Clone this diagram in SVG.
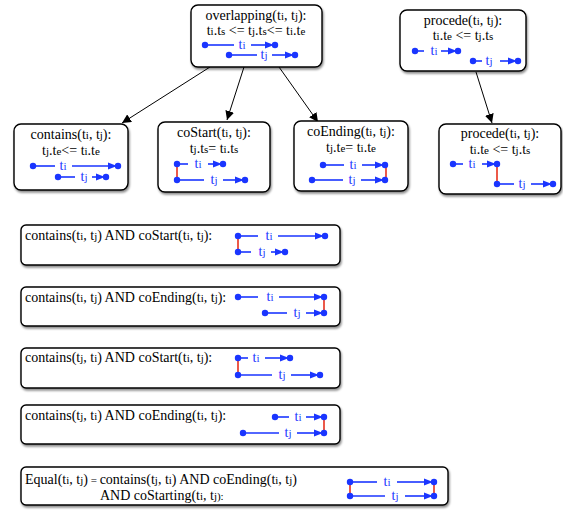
<svg xmlns="http://www.w3.org/2000/svg" xmlns:xlink="http://www.w3.org/1999/xlink" width="563" height="512" viewBox="0 0 563 512">
<defs>
<filter id="sh" x="-10%" y="-10%" width="130%" height="140%"><feDropShadow dx="1" dy="2" stdDeviation="1.2" flood-color="#000" flood-opacity="0.45"/></filter>
<marker id="ah" viewBox="0 0 10 10" refX="10" refY="5" markerWidth="9" markerHeight="9" orient="auto" markerUnits="userSpaceOnUse"><path d="M0,0 L10,5 L0,10 z" fill="#000"/></marker>
<g id="ae"><path d="M-10,-3.5 L-1,0 L-10,3.5 z" fill="#1a35ff"/><circle cx="0" cy="0" r="3.2" fill="#1a35ff"/></g>
<circle id="d" cx="0" cy="0" r="3.2" fill="#1a35ff"/>
</defs>
<style>
.box{fill:#fff;stroke:#000;stroke-width:1.4;filter:url(#sh)}
.t{font-family:"Liberation Serif","Times New Roman",serif;font-size:14px;fill:#000}
.c{text-anchor:middle}
.b{font-family:"Liberation Serif","Times New Roman",serif;font-size:14px;fill:#1a35ff;text-anchor:middle}
.s{font-size:11px}
.ln{stroke:#1a35ff;stroke-width:1.6;fill:none}
.rd{stroke:#e8301c;stroke-width:1.6}
.cn{stroke:#000;stroke-width:1;fill:none;marker-end:url(#ah)}
</style>
<rect width="563" height="512" fill="#fff"/>

<g id="connectors">
<line class="cn" x1="210" y1="67" x2="122" y2="123"/>
<line class="cn" x1="244" y1="67" x2="227" y2="120"/>
<line class="cn" x1="279" y1="67" x2="318" y2="122"/>
<line class="cn" x1="476" y1="72" x2="492" y2="123"/>
</g>

<g id="overlapping">
<rect class="box" x="191" y="5" width="131" height="62" rx="7"/>
<text class="t c" x="256" y="20">overlapping(t<tspan class="s">i</tspan>, t<tspan class="s">j</tspan>):</text>
<text class="t c" x="256" y="35">t<tspan class="s">i</tspan>.t<tspan class="s">s</tspan> &lt;= t<tspan class="s">j</tspan>.t<tspan class="s">s</tspan>&lt;= t<tspan class="s">i</tspan>.t<tspan class="s">e</tspan></text>
<use href="#d" x="205" y="45"/><line class="ln" x1="205" y1="45" x2="234" y2="45"/><text class="b" x="242" y="49">t<tspan class="s">i</tspan></text><line class="ln" x1="251" y1="45" x2="268" y2="45"/><use href="#ae" x="275" y="45"/>
<use href="#d" x="229" y="55"/><line class="ln" x1="229" y1="55" x2="257" y2="55"/><text class="b" x="264" y="59">t<tspan class="s">j</tspan></text><line class="ln" x1="272" y1="55" x2="288" y2="55"/><use href="#ae" x="295" y="55"/>
</g>

<g id="procede-top">
<rect class="box" x="400" y="10" width="126" height="61" rx="7"/>
<text class="t c" x="463" y="25">procede(t<tspan class="s">i</tspan>, t<tspan class="s">j</tspan>):</text>
<text class="t c" x="463" y="40">t<tspan class="s">i</tspan>.t<tspan class="s">e</tspan> &lt;= t<tspan class="s">j</tspan>.t<tspan class="s">s</tspan></text>
<use href="#d" x="415" y="51"/><line class="ln" x1="415" y1="51" x2="424" y2="51"/><text class="b" x="434" y="55">t<tspan class="s">i</tspan></text><line class="ln" x1="441" y1="51" x2="452" y2="51"/><use href="#ae" x="458" y="51"/>
<use href="#d" x="473" y="61"/><line class="ln" x1="473" y1="61" x2="482" y2="61"/><text class="b" x="489" y="65">t<tspan class="s">j</tspan></text><line class="ln" x1="500" y1="61" x2="512" y2="61"/><use href="#ae" x="518" y="61"/>
</g>

<g id="contains">
<rect class="box" x="14" y="124" width="114" height="66" rx="7"/>
<text class="t c" x="71" y="139">contains(t<tspan class="s">i</tspan>, t<tspan class="s">j</tspan>):</text>
<text class="t c" x="71" y="155">t<tspan class="s">j</tspan>.t<tspan class="s">e</tspan>&lt;= t<tspan class="s">i</tspan>.t<tspan class="s">e</tspan></text>
<use href="#d" x="33" y="166"/><line class="ln" x1="33" y1="166" x2="55" y2="166"/><text class="b" x="63" y="170">t<tspan class="s">i</tspan></text><line class="ln" x1="72" y1="166" x2="112" y2="166"/><use href="#ae" x="118" y="166"/>
<use href="#d" x="58" y="177"/><line class="ln" x1="58" y1="177" x2="75" y2="177"/><text class="b" x="84" y="181">t<tspan class="s">j</tspan></text><line class="ln" x1="92" y1="177" x2="100" y2="177"/><use href="#ae" x="106" y="177"/>
</g>

<g id="coStart">
<rect class="box" x="158" y="122" width="112" height="70" rx="7"/>
<text class="t c" x="214" y="137">coStart(t<tspan class="s">i</tspan>, t<tspan class="s">j</tspan>):</text>
<text class="t c" x="214" y="153">t<tspan class="s">j</tspan>.t<tspan class="s">s</tspan>= t<tspan class="s">i</tspan>.t<tspan class="s">s</tspan></text>
<line class="rd" x1="177" y1="164" x2="177" y2="180"/>
<use href="#d" x="177" y="164"/><line class="ln" x1="177" y1="164" x2="188" y2="164"/><text class="b" x="198" y="168">t<tspan class="s">i</tspan></text><line class="ln" x1="208" y1="164" x2="217" y2="164"/><use href="#ae" x="223" y="164"/>
<use href="#d" x="177" y="180"/><line class="ln" x1="177" y1="180" x2="204" y2="180"/><text class="b" x="214" y="184">t<tspan class="s">j</tspan></text><line class="ln" x1="223" y1="180" x2="239" y2="180"/><use href="#ae" x="245" y="180"/>
</g>

<g id="coEnding">
<rect class="box" x="294" y="121" width="114" height="70" rx="7"/>
<text class="t c" x="351" y="136">coEnding(t<tspan class="s">i</tspan>, t<tspan class="s">j</tspan>):</text>
<text class="t c" x="351" y="152">t<tspan class="s">j</tspan>.t<tspan class="s">e</tspan>= t<tspan class="s">i</tspan>.t<tspan class="s">e</tspan></text>
<line class="rd" x1="386" y1="165" x2="386" y2="180"/>
<use href="#d" x="323" y="165"/><line class="ln" x1="323" y1="165" x2="344" y2="165"/><text class="b" x="353" y="169">t<tspan class="s">i</tspan></text><line class="ln" x1="362" y1="165" x2="379" y2="165"/><use href="#ae" x="385" y="165"/>
<use href="#d" x="312" y="180"/><line class="ln" x1="312" y1="180" x2="343" y2="180"/><text class="b" x="352" y="184">t<tspan class="s">j</tspan></text><line class="ln" x1="361" y1="180" x2="379" y2="180"/><use href="#ae" x="385" y="180"/>
</g>

<g id="procede-bottom">
<rect class="box" x="439" y="124" width="122" height="70" rx="7"/>
<text class="t c" x="500" y="138">procede(t<tspan class="s">i</tspan>, t<tspan class="s">j</tspan>):</text>
<text class="t c" x="500" y="154">t<tspan class="s">i</tspan>.t<tspan class="s">e</tspan> &lt;= t<tspan class="s">j</tspan>.t<tspan class="s">s</tspan></text>
<line class="rd" x1="497" y1="164" x2="497" y2="184"/>
<use href="#d" x="453" y="164"/><line class="ln" x1="453" y1="164" x2="463" y2="164"/><text class="b" x="472" y="168">t<tspan class="s">i</tspan></text><line class="ln" x1="482" y1="164" x2="491" y2="164"/><use href="#ae" x="497" y="164"/>
<use href="#d" x="497" y="184"/><line class="ln" x1="497" y1="184" x2="514" y2="184"/><text class="b" x="522" y="188">t<tspan class="s">j</tspan></text><line class="ln" x1="531" y1="184" x2="547" y2="184"/><use href="#ae" x="553" y="184"/>
</g>

<g id="contains-coStart">
<rect class="box" x="21" y="225" width="319" height="40" rx="5"/>
<text class="t" x="25" y="240">contains(t<tspan class="s">i</tspan>, t<tspan class="s">j</tspan>) AND coStart(t<tspan class="s">i</tspan>, t<tspan class="s">j</tspan>):</text>
<line class="rd" x1="238" y1="236" x2="238" y2="252"/>
<use href="#d" x="238" y="236"/><line class="ln" x1="238" y1="236" x2="258" y2="236"/><text class="b" x="269" y="240">t<tspan class="s">i</tspan></text><line class="ln" x1="278" y1="236" x2="319" y2="236"/><use href="#ae" x="325" y="236"/>
<use href="#d" x="238" y="252"/><line class="ln" x1="238" y1="252" x2="251" y2="252"/><text class="b" x="262" y="256">t<tspan class="s">j</tspan></text><line class="ln" x1="271" y1="252" x2="279" y2="252"/><use href="#ae" x="285" y="252"/>
</g>

<g id="contains-coEnding">
<rect class="box" x="21" y="287" width="319" height="39" rx="5"/>
<text class="t" x="25" y="302">contains(t<tspan class="s">i</tspan>, t<tspan class="s">j</tspan>) AND coEnding(t<tspan class="s">i</tspan>, t<tspan class="s">j</tspan>):</text>
<line class="rd" x1="324" y1="297" x2="324" y2="313"/>
<use href="#d" x="238" y="297"/><line class="ln" x1="238" y1="297" x2="258" y2="297"/><text class="b" x="270" y="301">t<tspan class="s">i</tspan></text><line class="ln" x1="279" y1="297" x2="318" y2="297"/><use href="#ae" x="324" y="297"/>
<use href="#d" x="265" y="313"/><line class="ln" x1="265" y1="313" x2="287" y2="313"/><text class="b" x="297" y="317">t<tspan class="s">j</tspan></text><line class="ln" x1="306" y1="313" x2="318" y2="313"/><use href="#ae" x="324" y="313"/>
</g>

<g id="containsji-coStart">
<rect class="box" x="21" y="348" width="319" height="40" rx="5"/>
<text class="t" x="25" y="362">contains(t<tspan class="s">j</tspan>, t<tspan class="s">i</tspan>) AND coStart(t<tspan class="s">i</tspan>, t<tspan class="s">j</tspan>):</text>
<line class="rd" x1="238" y1="358" x2="238" y2="375"/>
<use href="#d" x="238" y="358"/><line class="ln" x1="238" y1="358" x2="248" y2="358"/><text class="b" x="256" y="362">t<tspan class="s">i</tspan></text><line class="ln" x1="265" y1="358" x2="284" y2="358"/><use href="#ae" x="290" y="358"/>
<use href="#d" x="238" y="375"/><line class="ln" x1="238" y1="375" x2="272" y2="375"/><text class="b" x="282" y="379">t<tspan class="s">j</tspan></text><line class="ln" x1="291" y1="375" x2="314" y2="375"/><use href="#ae" x="320" y="375"/>
</g>

<g id="containsji-coEnding">
<rect class="box" x="21" y="405" width="319" height="39" rx="5"/>
<text class="t" x="25" y="420">contains(t<tspan class="s">j</tspan>, t<tspan class="s">i</tspan>) AND coEnding(t<tspan class="s">i</tspan>, t<tspan class="s">j</tspan>):</text>
<line class="rd" x1="324" y1="417" x2="324" y2="433"/>
<use href="#d" x="275" y="417"/><line class="ln" x1="275" y1="417" x2="289" y2="417"/><text class="b" x="298" y="421">t<tspan class="s">i</tspan></text><line class="ln" x1="306" y1="417" x2="318" y2="417"/><use href="#ae" x="324" y="417"/>
<use href="#d" x="243" y="433"/><line class="ln" x1="243" y1="433" x2="279" y2="433"/><text class="b" x="288" y="437">t<tspan class="s">j</tspan></text><line class="ln" x1="297" y1="433" x2="318" y2="433"/><use href="#ae" x="324" y="433"/>
</g>

<g id="equal">
<rect class="box" x="21" y="467" width="427" height="38" rx="5"/>
<text class="t" x="25" y="484">Equal(t<tspan class="s">i</tspan>, t<tspan class="s">j</tspan>)<tspan class="s"> = </tspan>contains(t<tspan class="s">j</tspan>, t<tspan class="s">i</tspan>) AND coEnding(t<tspan class="s">i</tspan>, t<tspan class="s">j</tspan>)</text>
<text class="t" x="100" y="500">AND coStarting(t<tspan class="s">i</tspan>, t<tspan class="s">j):</tspan></text>
<line class="rd" x1="350" y1="482" x2="350" y2="496"/>
<line class="rd" x1="434" y1="482" x2="434" y2="496"/>
<use href="#d" x="350" y="482"/><line class="ln" x1="350" y1="482" x2="377" y2="482"/><text class="b" x="387" y="486">t<tspan class="s">i</tspan></text><line class="ln" x1="397" y1="482" x2="428" y2="482"/><use href="#ae" x="434" y="482"/>
<use href="#d" x="350" y="496"/><line class="ln" x1="350" y1="496" x2="385" y2="496"/><text class="b" x="395" y="500">t<tspan class="s">j</tspan></text><line class="ln" x1="405" y1="496" x2="428" y2="496"/><use href="#ae" x="434" y="496"/>
</g>
</svg>
